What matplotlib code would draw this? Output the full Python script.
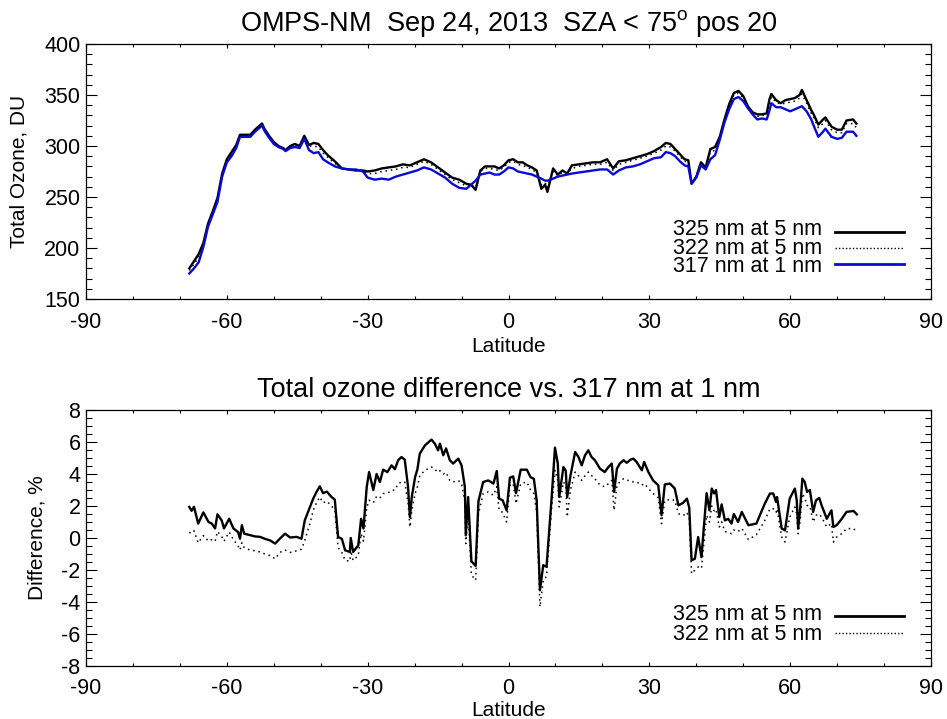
import numpy as np
import matplotlib
matplotlib.use("Agg")
import matplotlib.pyplot as plt
from matplotlib.ticker import MultipleLocator
from matplotlib.lines import Line2D

plt.rcParams['font.family'] = ['Liberation Sans', 'DejaVu Sans']
plt.rcParams['mathtext.fontset'] = 'custom'
plt.rcParams['mathtext.rm'] = 'Liberation Sans'
plt.rcParams['axes.unicode_minus'] = False

# ---------------- data: top panel (total ozone, DU) ----------------
lat_top = [-68, -67, -66, -65, -64, -63, -62, -61, -60, -59, -58, -57.2, -56, -55, -54, -53,
           -52.5, -52, -51, -50, -49, -48, -47.5, -46.5, -45.5, -44.5, -43.5, -42.5, -41.5,
           -40.5, -39.5, -38.5, -37, -35.5, -34, -32.5, -31, -30, -28.5, -27, -25.5, -24,
           -22.5, -21, -19.5, -18, -16.5, -15, -13.5, -12, -10.5, -9, -8, -7, -6, -5, -4,
           -3, -2, -1, 0, 1, 2, 3, 4, 5, 6, 7, 7.8, 8.3, 9.5, 10.5, 11.5, 12.5, 13.5, 15,
           16.5, 18, 19.5, 21, 22.3, 23.5, 25, 26.5, 28, 29.5, 31, 32.5, 33.5, 34.5, 35.5,
           36.5, 37.5, 38.3, 39, 40, 41, 42, 43, 44, 45, 46, 47, 48, 49, 50, 51, 52, 53, 54,
           55, 55.6, 56, 57, 58, 59, 60, 61, 62, 62.5, 63.5, 64.5, 65, 66, 67, 67.5, 68.8,
           70, 71, 72, 73.4, 74.1]
o3_317 = [175, 180, 186, 201, 221, 233, 245, 270, 284, 290, 298, 309, 309, 309, 314, 318,
          320, 315, 308, 302, 299, 297, 295, 298, 299, 298, 307, 296, 293,
          294, 287, 284, 280, 278, 277, 277, 275, 269, 267, 268, 267, 270,
          272, 274, 276, 279, 277, 273, 269, 263, 259, 258, 262, 266, 272, 273, 274,
          272, 272, 275, 279, 278, 275, 274, 273, 272, 270, 268, 266, 266, 268, 270, 271, 272, 273, 274,
          275, 276, 277, 277, 272, 276, 279, 280, 282, 285, 288, 289, 294, 293, 290,
          285, 281, 280, 263, 269, 281, 277, 287, 291, 306, 323, 336, 346, 348, 344, 337, 331, 326, 327,
          326, 335, 342, 338, 338, 336, 334, 336, 338, 339, 334, 326, 320, 309, 314, 317, 309,
          307, 308, 314, 314, 310]
o3_325 = [180, 187, 194, 205, 224, 236, 249, 273, 287, 294, 301, 311, 311, 311, 316, 320,
          322, 317, 310, 304, 300, 298, 296, 300, 302, 300, 310, 301, 303,
          302, 296, 291, 285, 278, 277, 276, 276, 275, 276, 278, 279, 280,
          282, 281, 284, 287, 284, 279, 274, 269, 267, 263, 262, 257, 276, 280, 280,
          280, 278, 281, 286, 287, 284, 284, 281, 279, 276, 258, 262, 255, 278, 272, 276, 273, 281, 282,
          283, 284, 284, 287, 278, 285, 286, 288, 290, 292, 295, 299, 303, 302, 297,
          292, 287, 286, 263, 270, 284, 279, 297, 299, 309, 326, 341, 352, 354, 349, 339, 333, 331, 331,
          332, 346, 351, 345, 342, 345, 346, 347, 350, 355, 345, 335, 331, 321, 326, 328, 319,
          316, 316, 325, 326, 322]
o3_322 = [178, 184, 191, 203, 223, 235, 248, 272, 286, 293, 300, 310, 310, 310, 315, 319,
          321, 316, 309, 303, 300, 298, 296, 299, 301, 299, 309, 300, 300,
          299, 293, 289, 283, 278, 277, 276, 276, 273, 273, 275, 276, 277,
          279, 279, 282, 285, 282, 277, 272, 267, 264, 261, 262, 259, 275, 278, 278,
          277, 276, 279, 284, 285, 282, 281, 279, 277, 274, 262, 264, 259, 275, 271, 274, 273, 278, 280,
          281, 282, 282, 284, 276, 282, 284, 286, 288, 290, 293, 296, 300, 299, 295,
          290, 285, 284, 263, 270, 283, 278, 294, 296, 308, 325, 339, 350, 352, 347, 338, 332, 329, 330,
          330, 343, 348, 343, 341, 342, 343, 344, 347, 351, 342, 332, 328, 318, 322, 325, 316,
          313, 313, 322, 322, 318]

# ---------------- data: bottom panel (difference, %) ----------------
lat_diff = [-68.0, -67.5, -67.0, -66.1, -65.0, -63.9, -63.2, -62.5, -62.0, -61.1, -60.6, -59.5,
            -58.6, -57.6, -57.2, -56.8, -56.3, -55.1, -54.0, -52.9, -51.9, -50.8, -49.7, -48.7,
            -47.6, -46.5, -45.1, -44.1, -43.4, -42.3, -41.6, -40.9, -40.2, -39.5, -38.7, -37.7,
            -37.0, -36.3, -35.5, -34.8, -33.8, -33.6, -33.1, -32.0, -31.4, -30.9, -30.2, -29.7,
            -28.8, -28.1, -27.4, -26.7, -25.8, -24.9, -24.2, -23.5, -22.8, -22.1, -21.4, -21.0,
            -20.6, -19.9, -19.4, -18.9, -17.8, -16.4, -15.7, -15.0, -14.6, -13.9, -13.3, -12.5,
            -11.8, -10.7, -10.0, -9.3, -9.1, -8.6, -7.9, -7.0, -6.4, -5.4, -4.3, -3.2, -2.5,
            -2.0, -1.25, -0.4, 0.3, 1.0, 1.6, 2.6, 3.9, 4.7, 5.4, 6.0, 6.7, 7.4, 8.1, 9.2, 9.9,
            10.5, 10.8, 11.7, 12.2, 12.5, 13.2, 14.2, 14.9, 15.6, 16.3, 17.0, 17.7, 18.4, 19.5,
            20.5, 21.3, 22.0, 22.5, 23.1, 23.7, 24.5, 25.2, 26.0, 26.6, 27.3, 28.4, 28.9, 29.8,
            30.8, 31.9, 32.6, 33.3, 34.4, 35.4, 36.2, 37.2, 38.0, 38.5, 39.0, 39.7, 40.4, 41.1,
            42.2, 42.8, 43.3, 43.8, 44.2, 44.9, 45.4, 46.1, 46.8, 47.5, 48.0, 48.9, 49.7, 51.1,
            52.8, 54.6, 55.7, 56.4, 57.0, 57.2, 58.2, 58.9, 59.9, 61.0, 61.4, 61.7, 62.1, 62.6,
            63.1, 63.6, 64.2, 64.9, 65.5, 66.2, 66.7, 67.8, 68.8, 69.2, 69.9, 71.0, 72.0, 73.5,
            74.2]
diff_325 = [1.94, 1.7, 1.95, 0.9, 1.6, 1.0, 0.9, 0.6, 1.48, 1.1, 0.6, 1.2,
            0.6, 0.37, -0.04, 0.8, 0.27, 0.18, 0.1, 0.07, -0.05, -0.15, -0.35, -0.04,
            0.27, 0.03, 0.07, -0.05, 1.1, 1.94, 2.46, 2.88, 3.23, 2.8, 2.9, 2.56,
            2.4, 0.06, -0.05, -0.77, -0.87, 0.0, -0.87, -0.46, 1.2, 0.6, 3.19, 4.12,
            3.0, 4.0, 3.5, 4.27, 4.12, 4.54, 4.3, 4.86, 5.06, 4.9, 3.2, 1.3,
            2.56, 3.8, 4.3, 5.27, 5.79, 6.15, 5.9, 5.48, 5.9, 5.17, 5.6, 4.86,
            4.65, 4.96, 4.54, 3.2, 0.17, 2.56, -1.45, -1.75, 2.3, 3.5, 3.6, 3.4, 4.19,
            2.46, 2.36, 1.73, 3.77, 3.85, 2.8, 4.27, 4.27, 3.8, 3.7, 2.36, -3.27, -1.7, -1.8, 2.56, 5.65,
            4.65, 2.56, 4.44, 4.2, 2.56, 3.9, 5.38, 5.06, 4.54, 5.17, 5.48, 5.06, 4.86, 4.33,
            4.12, 4.44, 4.65, 2.88, 4.33, 4.65, 4.86, 4.7, 4.9, 4.96, 4.75, 4.23, 4.75, 4.12,
            3.6, 3.3, 1.42, 3.35, 3.4, 3.1, 2.04, 2.2, 2.46, 1.9, -1.39, -1.3, 0.06, -1.2,
            2.8, 1.73, 3.09, 2.78, 3.0, 1.31, 2.1, 1.1, 1.2, 0.9, 1.5, 1.0, 1.63, 0.8,
            0.9, 2.15, 2.78, 2.78, 2.25, 2.56, 0.59, 0.48, 2.46, 3.09, 2.36, 0.59, 1.73, 3.71,
            3.5, 2.88, 3.0, 1.63, 2.36, 2.5, 2.04, 1.2, 1.73, 0.69, 0.8, 1.2, 1.63, 1.69,
            1.48]
diff_322 = [0.35, 0.3, 0.45, -0.3, 0.15, -0.2, -0.1, -0.2, 0.4, 0.1, -0.2, 0.37,
            -0.1, -0.5, -0.75, -0.3, -0.6, -0.75, -0.8, -0.87, -1.0, -1.1, -1.3, -0.9,
            -0.75, -0.9, -0.8, -0.7, -0.15, 0.9, 1.73, 2.2, 2.56, 2.2, 2.3, 2.0,
            1.73, -0.6, -0.9, -1.4, -1.45, -0.8, -1.4, -1.1, 0.27, -0.2, 1.9, 2.36,
            2.2, 2.6, 2.5, 2.78, 2.8, 2.98, 3.0, 3.4, 3.5, 3.5, 2.2, 0.69,
            1.7, 2.78, 3.2, 3.9, 4.23, 4.44, 4.3, 4.1, 4.2, 4.0, 4.1, 3.6,
            3.5, 3.6, 3.4, 2.3, -0.35, 1.6, -2.3, -2.64, 1.5, 2.78, 2.88, 2.67, 3.2,
            1.73, 1.6, 1.0, 3.3, 3.4, 2.15, 3.4, 3.5, 3.0, 2.78, 1.6, -4.3, -2.64, -2.4, 1.9, 4.23,
            3.6, 1.94, 3.5, 3.3, 1.31, 3.0, 4.12, 3.9, 3.6, 3.9, 4.12, 3.9, 3.7, 3.3,
            3.2, 3.4, 3.6, 1.73, 3.3, 3.5, 3.7, 3.6, 3.6, 3.5, 3.5, 3.3, 3.4, 3.1,
            2.78, 2.5, 0.9, 2.36, 2.4, 2.36, 1.52, 1.4, 1.6, 1.2, -2.23, -2.0, -1.81, -1.9,
            1.42, 1.0, 2.0, 1.7, 1.8, 0.69, 1.0, 0.4, 0.35, 0.27, 0.5, 0.4, 0.6, -0.1,
            0.2, 1.1, 1.83, 1.83, 1.6, 1.83, 0.06, -0.25, 1.3, 1.94, 1.5, 0.27, 1.0, 2.78,
            2.5, 2.04, 2.0, 1.0, 1.42, 1.5, 1.3, 0.69, 0.9, -0.25, 0.06, 0.27, 0.59, 0.59,
            0.38]

xticks = [-90, -60, -30, 0, 30, 60, 90]
yticks_top = [150, 200, 250, 300, 350, 400]
yticks_bot = [-8, -6, -4, -2, 0, 2, 4, 6, 8]
labels_top = ['325 nm at 5 nm', '322 nm at 5 nm', '317 nm at 1 nm']
labels_bot = ['325 nm at 5 nm', '322 nm at 5 nm']

W, H = 947, 719
fig = plt.figure(figsize=(W / 100, H / 100), dpi=100)

def fx(px):
    return px / W

def fy(py):
    return 1 - py / H

L, R = 86, 931
ax1 = fig.add_axes([fx(L), fy(299), fx(R) - fx(L), fy(44) - fy(299)])
ax2 = fig.add_axes([fx(L), fy(666), fx(R) - fx(L), fy(410) - fy(666)])

BLUE = '#0a0ad8'
dots = (0, (1, 2.5))

ax1.plot(lat_top, o3_325, color='black', lw=1.7, solid_joinstyle='round')
ax1.plot(lat_top, o3_322, color='black', lw=1.1, linestyle=dots)
ax1.plot(lat_top, o3_317, color=BLUE, lw=1.7, solid_joinstyle='round')

ax2.plot(lat_diff, diff_325, color='black', lw=1.7, solid_joinstyle='round')
ax2.plot(lat_diff, diff_322, color='black', lw=1.1, linestyle=dots)

for ax in (ax1, ax2):
    ax.set_xlim(-90, 90)
    ax.set_xticks(xticks)
    ax.xaxis.set_minor_locator(MultipleLocator(10))
    ax.tick_params(which='both', direction='in', top=True, right=True,
                   labelsize=15.5, width=0.8, color='black')
    ax.tick_params(axis='x', which='major', length=3.0, pad=9)
    ax.tick_params(axis='x', which='minor', length=2.0)
    ax.tick_params(axis='y', which='major', length=8.0, pad=4)
    ax.tick_params(axis='y', which='minor', length=4.0)
    for s in ax.spines.values():
        s.set_linewidth(0.9)

ax1.set_ylim(150, 400)
ax1.set_yticks(yticks_top)
ax1.yaxis.set_minor_locator(MultipleLocator(10))
ax2.set_ylim(-8, 8)
ax2.set_yticks(yticks_bot)
ax2.yaxis.set_minor_locator(MultipleLocator(0.5))

# titles and labels
fig.text(fx(508.5), fy(31), 'OMPS-NM  Sep 24, 2013  SZA < 75$^{\\rm o}$ pos 20',
         ha='center', va='baseline', fontsize=19.5)
fig.text(fx(508.5), fy(397), 'Total ozone difference vs. 317 nm at 1 nm',
         ha='center', va='baseline', fontsize=19.5)
fig.text(fx(508.5), fy(346), 'Latitude', ha='center', va='center', fontsize=15)
fig.text(fx(508.5), fy(710), 'Latitude', ha='center', va='center', fontsize=15)
fig.text(fx(19), fy(171.5), 'Total Ozone, DU', ha='center', va='center',
         rotation=90, fontsize=15)
fig.text(fx(37), fy(538), 'Difference, %', ha='center', va='center',
         rotation=90, fontsize=15)

# legends (IDL style: text then line sample); one multi-line text per legend
def legend(rows_y, labels, styles, spacing):
    ymid = 0.5 * (rows_y[0] + rows_y[-1])
    fig.text(fx(822), fy(ymid), '\n'.join(labels), ha='right', va='center',
             multialignment='right', fontsize=15.5, linespacing=spacing)
    for yy, st in zip(rows_y, styles):
        fig.add_artist(Line2D([fx(835), fx(904)], [fy(yy), fy(yy)], **st))

st_solid = dict(color='black', lw=2.0)
st_dot = dict(color='black', lw=1.0, linestyle=(0, (1, 1.5)))
st_blue = dict(color=BLUE, lw=2.0)
legend([232, 248, 264], labels_top, [st_solid, st_dot, st_blue], 0.84)
legend([616, 633], labels_bot, [st_solid, st_dot], 0.89)

fig.savefig('out.png', dpi=100)
